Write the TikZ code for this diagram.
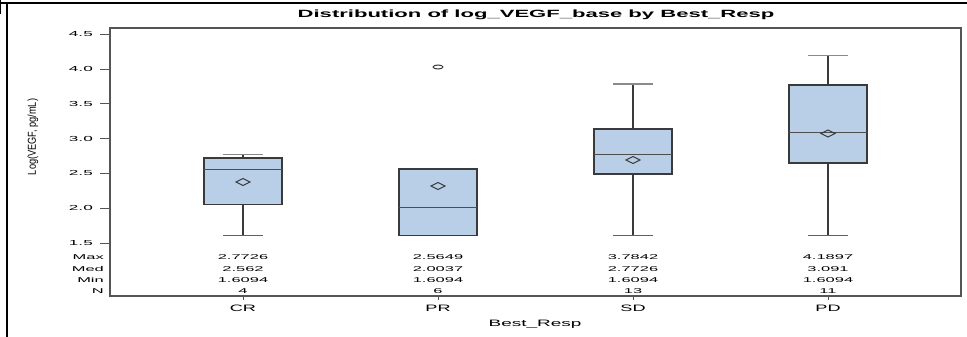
\documentclass[tikz,border=0pt]{standalone}
\usepackage{fontspec}
\setmainfont{Liberation Sans}
\usepackage{graphicx}
\definecolor{boxfill}{HTML}{B9CFE7}
\definecolor{boxline}{HTML}{3A3A3A}
\definecolor{capgray}{HTML}{8A8A8A}
\definecolor{framegray}{HTML}{555555}
\newcommand\sastxt[1]{\scalebox{2.35}[1]{#1}}
\newcommand\sascat[1]{\scalebox{1.95}[1]{#1}}
\tikzset{
  ticklbl/.style={anchor=east, inner sep=0pt, font=\fontsize{7.3}{8}\selectfont},
  statlbl/.style={anchor=east, inner sep=0pt, font=\fontsize{7}{8}\selectfont},
  statval/.style={anchor=center, inner sep=0pt, font=\fontsize{7}{8}\selectfont},
  catlbl/.style={anchor=center, inner sep=0pt, font=\fontsize{9.3}{10}\selectfont},
  bx/.style={fill=boxfill, draw=boxline, line width=1.3pt},
  whisk/.style={draw=boxline, line width=1.1pt},
  capl/.style={draw=capgray, line width=1.1pt},
  capd/.style={draw=boxline!80, line width=1.1pt},
  medl/.style={draw=boxline!90, line width=0.9pt},
  meanmk/.style={draw=boxline, line width=1pt},
}
\begin{document}
\begin{tikzpicture}[x=1pt,y=-1pt]
\useasboundingbox (0,0) rectangle (967,337);
% outer border
\draw[line width=2pt, black] (0,3) -- (967,3);
\draw[line width=2pt, black] (6.5,3) -- (6.5,337);
\draw[line width=1pt, black] (0.5,0) -- (0.5,14);
% title
\node[inner sep=0pt, font=\bfseries\fontsize{10.5}{11}\selectfont] (title) at (536,15) {\scalebox{2.1}[1]{Distribution of log\_VEGF\_base by Best\_Resp}};
% plot frame
\draw[framegray, line width=1.1pt] (110,28) rectangle (961,296);
% y ticks
\foreach \v/\yy in {4.5/34.2,4.0/69.0,3.5/103.8,3.0/138.6,2.5/173.4,2.0/208.2,1.5/243.0}{
  \draw[framegray, line width=0.9pt] (100,\yy) -- (110,\yy);
  \node[ticklbl] (yt\v) at (93,\yy) {\sastxt{\v}};
}
% y label
\node[inner sep=0pt, rotate=90, font=\fontsize{11.5}{12}\selectfont] (ylab) at (33,137) {\scalebox{0.8}[1]{Log(VEGF, pg/mL)}};
% stats labels
\node[statlbl] (lmax) at (104,257) {\sastxt{Max}};
\node[statlbl] (lmed) at (104,269) {\sastxt{Med}};
\node[statlbl] (lmin) at (104,280) {\sastxt{Min}};
\node[statlbl] (ln) at (104,291) {\sastxt{N}};
% categories
\foreach \c/\xx/\mx/\md/\mn/\nn in {CR/243/2.7726/2.562/1.6094/4, PR/438/2.5649/2.0037/1.6094/6, SD/633/3.7842/2.7726/1.6094/13, PD/828/4.1897/3.091/1.6094/11}{
  \draw[framegray, line width=0.9pt] (\xx,296) -- (\xx,300);
  \node[catlbl] (cat\c) at (\xx,308) {\sascat{\c}};
  \node[statval] (max\c) at (\xx,257) {\sastxt{\mx}};
  \node[statval] (med\c) at (\xx,269) {\sastxt{\md}};
  \node[statval] (min\c) at (\xx,280) {\sastxt{\mn}};
  \node[statval] (n\c) at (\xx,291) {\sastxt{\nn}};
}
\node[catlbl] (xlab) at (535,324) {\scalebox{2.04}[1]{Best\_Resp}};
% boxes: x, captop, q3, med, q1, capbot, mean
\foreach \xx/\ct/\qt/\me/\qb/\cb/\mu in {243/154.4/158/169.1/204.5/235.4/182, 633/84.0/129/154.4/174/235.4/160, 828/55.8/85/132.3/163/235.4/133.5}{
  \draw[whisk] (\xx,\ct) -- (\xx,\qt);
  \draw[whisk] (\xx,\qb) -- (\xx,\cb);
  \draw[capl] (\xx-20,\ct) -- (\xx+20,\ct);
  \draw[capd] (\xx-20,\cb) -- (\xx+20,\cb);
  \draw[bx] (\xx-39,\qt) rectangle (\xx+39,\qb);
  \draw[medl] (\xx-39,\me) -- (\xx+39,\me);
  \draw[meanmk] (\xx-7,\mu) -- (\xx,\mu-3.5) -- (\xx+7,\mu) -- (\xx,\mu+3.5) -- cycle;
}
% PR box (no whiskers)
\draw[bx] (399,168.9) rectangle (477,235.4);
\draw[medl] (399,207.9) -- (477,207.9);
\draw[meanmk] (431,186) -- (438,182.5) -- (445,186) -- (438,189.5) -- cycle;
\draw[meanmk] (438,67) ellipse [x radius=5, y radius=2];
\end{tikzpicture}
\end{document}
